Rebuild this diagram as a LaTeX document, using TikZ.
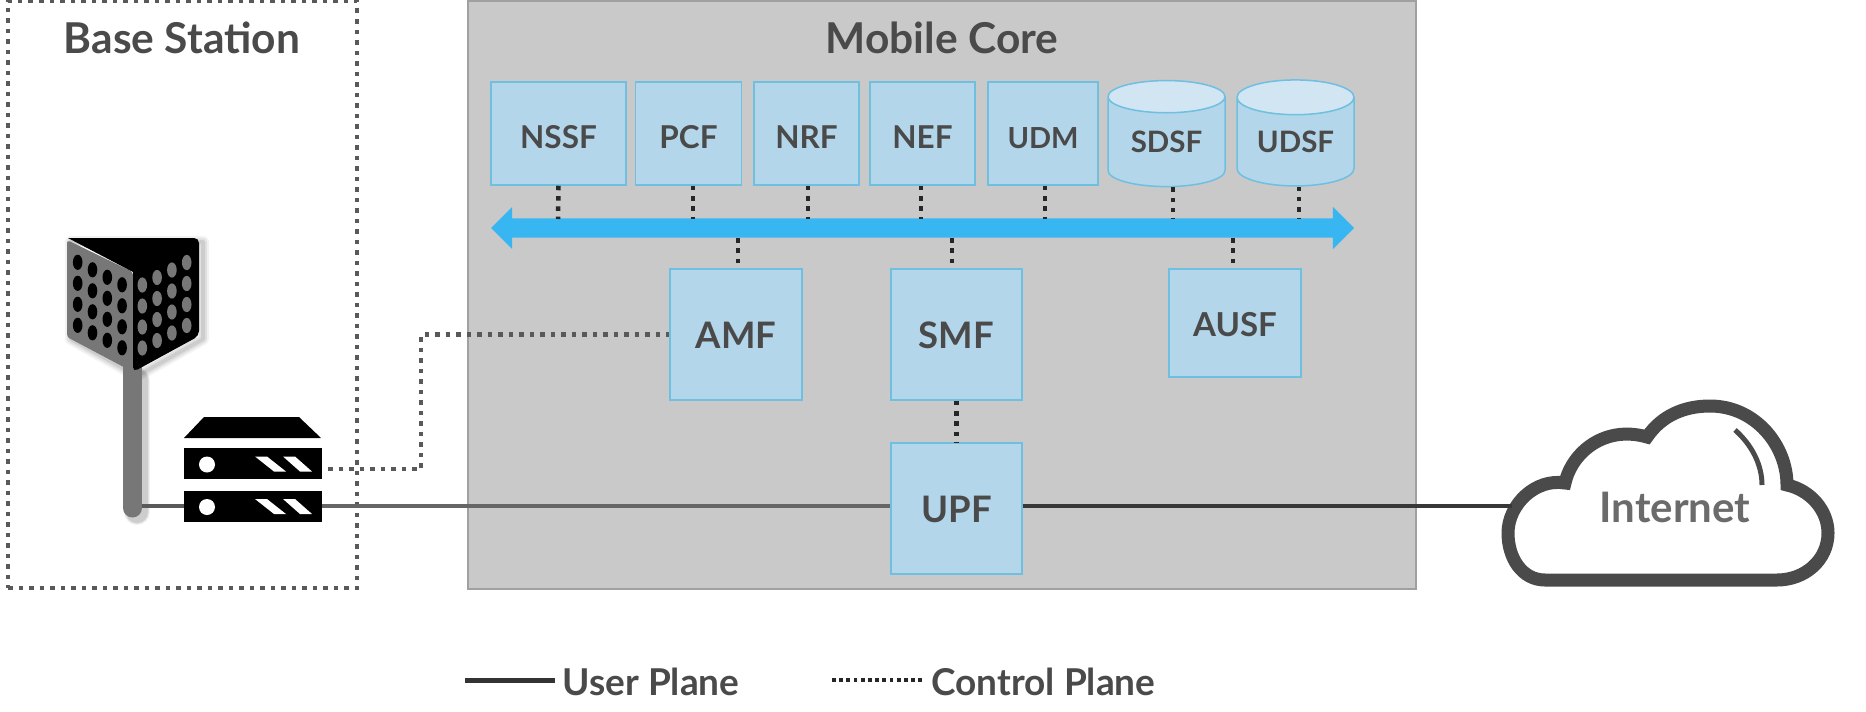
\documentclass[tikz,border=0pt]{standalone}
\usepackage{fontspec}
\setmainfont{Lato}
\usetikzlibrary{shapes.geometric,shapes.arrows,calc}
\definecolor{txt}{HTML}{4A4A4A}
\definecolor{boxfill}{HTML}{B3D6EA}
\definecolor{boxline}{HTML}{6FBFE0}
\definecolor{cyltop}{HTML}{D2E5F3}
\definecolor{corebg}{HTML}{C9C9C9}
\definecolor{coreline}{HTML}{A0A0A0}
\definecolor{busblue}{HTML}{38B6F2}
\definecolor{antgray}{HTML}{777777}
\newcommand{\fs}[1]{\fontsize{#1}{#1}\selectfont\bfseries}
\tikzset{
  x=1pt,y=-1pt,
  nf/.style={draw=boxline,line width=1.5pt,fill=boxfill,text=txt,inner sep=0pt,font=\fs{31.5},text height=29.5pt,text depth=0pt},
  nfbig/.style={nf,font=\fs{36.5},text height=28.5pt,text depth=0pt},
  dbcyl/.style={cylinder,shape border rotate=90,draw=boxline,line width=1.5pt,cylinder uses custom fill,cylinder body fill=boxfill,cylinder end fill=cyltop,aspect=0.45,minimum width=117pt,minimum height=106pt,inner sep=0pt,text=txt,font=\fs{29.5}},
  ctl/.style={draw=black!85,line width=4.5pt,dash pattern=on 4.5pt off 5.8pt},
  cp/.style={draw=black!65,line width=4.5pt,dash pattern=on 4.5pt off 6pt},
  up/.style={line width=4pt},
  rackbox/.style={fill=black,inner sep=0pt,minimum width=138pt},
  title/.style={text=txt,font=\fs{42.5}},
  legend/.style={text=txt,font=\fs{37},anchor=west},
}
\begin{document}
\begin{tikzpicture}
\useasboundingbox (0,0) rectangle (1866,712);
% containers
\node[draw=coreline,line width=1.5pt,fill=corebg,minimum width=948pt,minimum height=588pt,inner sep=0pt] (core) at (942,295) {};
\node[cp,minimum width=349pt,minimum height=587pt,inner sep=0pt] (bs) at (182.5,294.5) {};
\node[title] (bstitle) at (182,38) {Base Station};
\node[title] (coretitle) at (942,38) {Mobile Core};
% network functions
\node[nf,minimum width=135pt,minimum height=103pt] (nssf) at (558.5,133.5) {NSSF};
\node[nf,minimum width=106pt,minimum height=103pt] (pcf) at (688.5,133.5) {PCF};
\node[nf,minimum width=105pt,minimum height=103pt] (nrf) at (806.5,133.5) {NRF};
\node[nf,minimum width=105pt,minimum height=103pt] (nef) at (922.5,133.5) {NEF};
\node[nf,font=\fs{29},minimum width=110pt,minimum height=103pt] (udm) at (1043,133.5) {UDM};
\node[dbcyl] (sdsf) at (1166.5,142) {SDSF};
\node[dbcyl] (udsf) at (1295.5,142) {UDSF};
\node[double arrow,fill=busblue,inner xsep=0pt,inner ysep=9.5pt,minimum height=863pt,minimum width=42pt,double arrow head extend=11.5pt,double arrow tip angle=90,double arrow head indent=0pt] (bus) at (922.5,228) {};
\node[nfbig,minimum width=132pt,minimum height=131pt] (amf) at (736,334.5) {AMF};
\node[nfbig,minimum width=131pt,minimum height=131pt] (smf) at (956.5,334.5) {SMF};
\node[nf,font=\fs{33},text height=26pt,text depth=0pt,minimum width=132pt,minimum height=108pt] (ausf) at (1235,323) {AUSF};
\node[nfbig,minimum width=131pt,minimum height=131pt] (upf) at (956.5,508.5) {UPF};
% bus ends
\coordinate (b1) at (558,219);
\coordinate (b2) at (693,219);
\coordinate (b3) at (808,219);
\coordinate (b4) at (921,219);
\coordinate (b5) at (1045,219);
\coordinate (b6) at (1173,219);
\coordinate (b7) at (1299,219);
\coordinate (b8) at (738,238);
\coordinate (b9) at (952,238);
\coordinate (b10) at (1233,238);
\draw[ctl] (nssf.south) -- (b1);
\draw[ctl] (pcf.south -| b2) -- (b2);
\draw[ctl] (nrf.south -| b3) -- (b3);
\draw[ctl] (nef.south -| b4) -- (b4);
\draw[ctl] (udm.south -| b5) -- (b5);
\draw[ctl] (sdsf.south -| b6) -- (b6);
\draw[ctl] (udsf.south -| b7) -- (b7);
\draw[ctl] (b8) -- (amf.north -| b8);
\draw[ctl] (b9) -- (smf.north -| b9);
\draw[ctl] (b10) -- (ausf.north -| b10);
\draw[ctl] (smf.south) -- (upf.north);
% antenna shadow
\foreach \w/\o in {26/0.05,24/0.07,22/0.09}{
  \draw[black,opacity=\o,line width=\w pt,line cap=round,line join=round] (137,380) -- (137,512);
}
\foreach \w/\o in {12/0.05,8/0.07,4/0.09}{
  \draw[black,opacity=\o,line width=\w pt,line join=round] (71,242) -- (203,242) -- (203,339) -- (137,376) -- (71,339) -- cycle;
}
% antenna
\draw[antgray,line width=19pt,line cap=round] (132.5,365) -- (132.5,508);
\coordinate (polefoot) at (142,506);
\fill[antgray,rounded corners=3pt] (67,240) -- (133,272) -- (133,372) -- (67,337) -- cycle;
\fill[black,rounded corners=5pt] (68,238) -- (199,238) -- (199,336) -- (133,372) [sharp corners] -- (133,272) -- cycle;
\foreach \i in {0,1,2,3}{
  \foreach \j in {0,1,2,3}{
    \fill[black] ({77.7+14.8*\i},{262.3+7.5*\i+21*\j}) ellipse [x radius=4.8,y radius=7.6];
    \fill[antgray] ({142.3+14.8*\i},{285-7.5*\i+21*\j}) ellipse [x radius=4.8,y radius=7.6];
  }
}
% server
\fill[black] (184,438) -- (321,438) -- (299,417) -- (204,417) -- cycle;
\node[rackbox,minimum height=31pt] (rack1) at (253,463.5) {};
\node[rackbox,minimum height=31pt] (rack2) at (253,506) {};
\foreach \r in {rack1,rack2}{
  \fill[white] ($(\r.center)+(-46,1)$) circle [radius=8];
  \fill[white] ($(\r.center)+(2,-7)$) -- ++(12,0) -- ++(19,15) -- ++(-12,0) -- cycle;
  \fill[white] ($(\r.center)+(30,-7)$) -- ++(12,0) -- ++(17,15) -- ++(-12,0) -- cycle;
}
% cloud
\draw[draw=txt,fill=white,line width=13pt,miter limit=4] (1545,580) .. controls (1522,580) and (1508,558) .. (1508,533) .. controls (1508,505) and (1535,478) .. (1565,483) .. controls (1572,452) and (1605,425) .. (1647,437) .. controls (1662,415) and (1685,406) .. (1710,406) .. controls (1755,406) and (1787,445) .. (1787,485) .. controls (1810,490) and (1828,510) .. (1828,533) .. controls (1828,560) and (1805,580) .. (1777,580) -- cycle;
\draw[txt,line width=5pt] (1735,430) .. controls (1752,445) and (1762,465) .. (1762,485);
\node[text=black!58,font=\fs{42},inner sep=0pt] (inet) at (1675,507) {Internet};
\coordinate (cloudw) at (1512,506);
% connectors
\draw[up,draw=black!65] (polefoot) -- (rack2.west);
\draw[up,draw=black!60] (rack2.east) -- (rack2.east -| upf.west);
\draw[up,draw=black!78] (rack2.east -| upf.east) -- (cloudw);
\coordinate (ctlstart) at (328,469);
\coordinate (ctlmid) at (421,334.5);
\draw[cp] (ctlstart) -| (ctlmid) -- (amf.west);
% legend
\coordinate (l1) at (465,680);
\node[legend] (lu) at (559,682) {User Plane};
\draw[line width=5pt,draw=black!80] (l1) -- (555,680);
\node[legend] (lc) at (928,682) {Control Plane};
\coordinate (l2) at (832,680);
\draw[draw=black!85,line width=4pt,dash pattern=on 3.8pt off 3.4pt] (l2) -- (922,680);
\end{tikzpicture}
\end{document}
